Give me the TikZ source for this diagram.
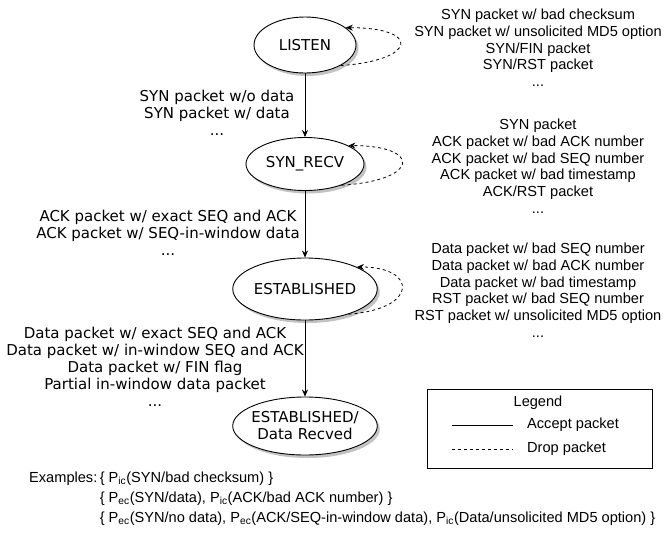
\documentclass[tikz,border=0pt]{standalone}
\usepackage{fontspec}
\setmainfont{Liberation Sans}
\newfontfamily\statefont{DejaVu Sans}
\usetikzlibrary{shapes.geometric,arrows.meta,shadows}
\tikzset{
  state/.style={ellipse, draw, line width=0.9pt, fill=white, inner sep=0pt,
    align=center, font=\statefont\fontsize{15}{17}\selectfont,
    drop shadow={shadow xshift=2.5pt, shadow yshift=-3pt, fill=black!40, opacity=0.6}},
  acclabel/.style={align=center, inner sep=0pt, anchor=north, font=\statefont\fontsize{15}{17}\selectfont},
  droplabel/.style={align=center, inner sep=0pt, anchor=north},
  accept/.style={-{Stealth[length=7pt,width=6pt]}, line width=0.8pt},
  drop/.style={-{Stealth[length=7pt,width=6pt]}, dashed, line width=0.8pt},
}
\begin{document}
\begin{tikzpicture}[x=1pt,y=-1pt,font=\fontsize{14.6}{16.7}\selectfont]
    \useasboundingbox (0,0) rectangle (664,550);
    % states
    \node[state, minimum width=102pt, minimum height=56pt] (listen) at (305,45) {LISTEN};
    \node[state, minimum width=118pt, minimum height=53pt] (synrecv) at (305,164) {SYN\_RECV};
    \node[state, minimum width=144pt, minimum height=62pt] (estab) at (305,289) {ESTABLISHED};
    \node[state, inner xsep=-2.5pt, minimum height=58pt] (recved) at (305,426) {ESTABLISHED/\\Data Recved};
    % accepted packets
    \path[accept] (listen) edge (synrecv);
    \path[accept] (synrecv) edge (estab);
    \path[accept] (estab) edge (recved);
    \node[acclabel] (listenacc) at (217,89.5) {SYN packet w/o data\\SYN packet w/ data\\...};
    \node[acclabel] (synrecvacc) at (168,209.5) {ACK packet w/ exact SEQ and ACK\\ACK packet w/ SEQ-in-window data\\...};
    \node[acclabel] (estabacc) at (155,326.5) {Data packet w/ exact SEQ and ACK\\Data packet w/ in-window SEQ and ACK\\Data packet w/ FIN flag\\Partial in-window data packet\\...};
    % dropped packets
    \draw[drop] (listen.-30) .. controls +(76,-5) and +(76,0) .. (listen.23);
    \draw[drop] (synrecv.-30) .. controls +(79,-5) and +(73,0) .. (synrecv.23);
    \draw[drop] (estab.-30) .. controls +(70,-5) and +(61,0) .. (estab.23);
    \node[droplabel] (listendrop) at (538,9) {SYN packet w/ bad checksum\\SYN packet w/ unsolicited MD5 option\\SYN/FIN packet\\SYN/RST packet\\...};
    \node[droplabel] (synrecvdrop) at (538,119) {SYN packet\\ACK packet w/ bad ACK number\\ACK packet w/ bad SEQ number\\ACK packet w/ bad timestamp\\ACK/RST packet\\...};
    \node[droplabel] (estabdrop) at (538,243) {Data packet w/ bad SEQ number\\Data packet w/ bad ACK number\\Data packet w/ bad timestamp\\RST packet w/ bad SEQ number\\RST packet w/ unsolicited MD5 option\\...};
    % legend
    \node[draw, line width=0.8pt, minimum width=225pt, minimum height=79pt, inner sep=0pt] (legend) at (539.5,428.5) {};
    \node (legendtitle) at (538,403) {Legend};
    \coordinate (acc1) at (452,425);
    \coordinate (acc2) at (513,425);
    \coordinate (drop1) at (452,449);
    \coordinate (drop2) at (513,449);
    \draw[line width=0.8pt] (acc1) -- (acc2);
    \draw[line width=0.8pt, dashed] (drop1) -- (drop2);
    \node[anchor=west, inner sep=0pt] (acctext) at (527,425) {Accept packet};
    \node[anchor=west, inner sep=0pt] (droptext) at (527,449) {Drop packet};
    % examples
    \node[anchor=north west, inner sep=0pt] (examples) at (29,468) {\def\arraystretch{1.2}%
      \begin{tabular}{@{}r@{\,}l@{}}
        Examples: & \{ P\textsubscript{ic}(SYN/bad checksum) \}\\
        & \{ P\textsubscript{ec}(SYN/data), P\textsubscript{ic}(ACK/bad ACK number) \}\\
        & \{ P\textsubscript{ec}(SYN/no data), P\textsubscript{ec}(ACK/SEQ-in-window data), P\textsubscript{ic}(Data/unsolicited MD5 option) \}
      \end{tabular}};
\end{tikzpicture}
\end{document}
